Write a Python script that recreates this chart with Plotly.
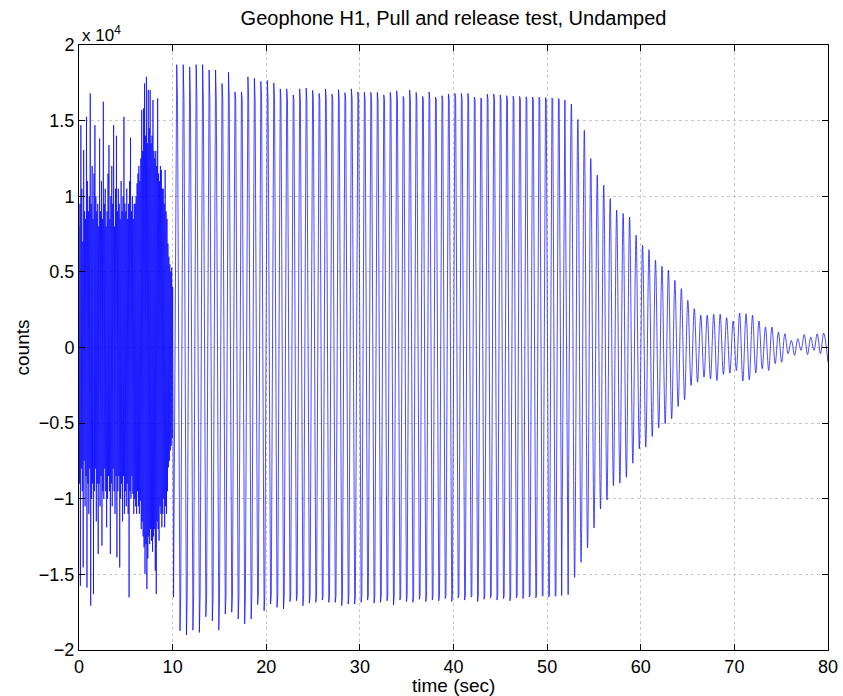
import numpy as np
import plotly.graph_objects as go

# ---------------- data ----------------
# 0-10 s : irregular shaking, sampled every 0.05 s
noise_dt = 0.05
noise_counts = [
    8000, -9000, 9500, -15750, 14700, -8000, 10500, -9500, 7000, -14540,
    13050, -7500, 9000, -10500, 8500, -8500, 15250, -15870, 11000, -9000,
    9000, -11000, 10000, -8000, 16800, -17070, 9500, -10000, 12000, -9000,
    8500, -16300, 11500, -9500, 14700, -8000, 10000, -11500, 9000, -9000,
    9500, -13650, 8000, -9000, 13820, -10500, 9000, -8500, 11000, -13100,
    8500, -9500, 16250, -10000, 9500, -8000, 10500, -9500, 8000, -11890,
    9000, -10000, 11500, -8500, 13380, -9500, 8500, -13650, 10000, -9000,
    12000, -10500, 9500, -8000, 14700, -9500, 8000, -11000, 10500, -8500,
    14000, -13870, 9000, -9500, 10500, -8500, 9500, -14540, 8500, -10000,
    11000, -9000, 9000, -11500, 10000, -8500, 15250, -11000, 9500, -9500,
    9000, -10500, 10500, -9000, 8500, -11000, 9500, -16520, 11000, -9500,
    13870, -10000, 9000, -8500, 10000, -9680, 8500, -11000, 9500, -10000,
    9500, -10500, 10000, -11000, 10850, -9500, 11500, -10500, 12000, -11000,
    11000, -10120, 12500, -12000, 15700, -11500, 13000, -12500, 15810, -13210,
    17460, -14970, 14000, -13000, 17900, -15970, 13500, -13950, 17020, -12500,
    14500, -13000, 17020, -12000, 13500, -12770, 14000, -13500, 16360, -12500,
    13000, -12000, 12500, -14750, 13000, -16300, 12000, -11500, 16470, -12000,
    11500, -12770, 11000, -10500, 12000, -11000, 11730, -11890, 10500, -11000,
    10500, -10000, 9500, -11890, 11730, -10500, 9000, -11000, 8500, -9500,
    6870, -7920, 6000, -7500, 5500, -6810, 5000, -6500, 5280, -6000,
    4000,
]

# 10-80 s : pendulum-like oscillation, one entry per cycle
first_trough = (10.10, -16500)
cycle_start = 10.44          # time of first positive peak (s)
cycle_period = 0.691         # s
clip_pos = 16400             # saturation level seen on the plateau
clip_neg = -16400

clipped_peaks = [
    18700, 18700, 18550, 18700, 18700, 18350, 18350, 17450, 18200, 16900,
    16900, 17900, 17800, 17600, 17650, 17500, 17100, 17100, 16700, 17100,
    17150, 17000, 16800, 17100, 16750, 17050, 16850, 17100, 16900, 16870,
    16870, 16870, 16700, 16870, 16975, 16600, 17020, 16870, 16600, 16900,
    16550, 16650, 16760, 16800, 16800, 16800, 16550, 16500, 16750, 16760,
    16700, 16650, 16620, 16600, 16580, 16560, 16550, 16520, 16500, 16450,
    16360,
]
clipped_troughs = [
    -18730, -19010, -18690, -18840, -17800, -18070, -18690, -17620, -17510, -17950,
    -18280, -17950, -17000, -17400, -16960, -17180, -17290, -16800, -16740, -17070,
    -16900, -16850, -16700, -16850, -16850, -17070, -16960, -16960, -16850, -16700,
    -16900, -16850, -16750, -17030, -16700, -16800, -16850, -16650, -16800, -16700,
    -16750, -16600, -16800, -16550, -16700, -16500, -16800, -16650, -16550, -16700,
    -16600, -16750, -16550, -16600, -16500, -16550, -16450, -16500, -16450, -16400,
    -16340,
]
decay_peaks = [
    16100, 15080, 14370, 12500, 11400, 10730, 9850, 9080, 8860, 8630,
    7420, 6760, 6470, 5770, 5370, 5100, 4440, 3890, 3120, 2570,
    2130, 2130, 2190, 2190, 1970, 1750, 2280, 2230, 2130, 1750,
    1350, 1350, 1020, 910, 470, 580, 860, 690, 910, 950,
]
decay_troughs = [
    -15200, -14200, -13250, -11930, -10670, -10080, -9130, -8970, -8580, -7650,
    -6700, -6590, -5880, -5310, -5040, -4710, -3900, -3450, -2510, -2290,
    -1960, -2070, -2180, -1780, -1690, -1520, -2220, -2130, -1690, -1400,
    -1520, -1070, -970, -410, -520, -190, -460, -190, -410,
]
last_sample = (80.0, -970)

x_ticks = [0, 10, 20, 30, 40, 50, 60, 70, 80]
y_ticks = [-20000, -15000, -10000, -5000, 0, 5000, 10000, 15000, 20000]
y_ticktext = ["\u22122", "\u22121.5", "\u22121", "\u22120.5", "0", "0.5", "1", "1.5", "2"]

# ---------------- build the traces ----------------
t_noise = np.arange(len(noise_counts)) * noise_dt
half = cycle_period / 2
dwell = 0.08

tc, yc = [first_trough[0]], [first_trough[1]]
for k, (pk, tr) in enumerate(zip(clipped_peaks, clipped_troughs)):
    tp = cycle_start + k * cycle_period
    if pk > clip_pos:
        tc += [tp - dwell, tp, tp + dwell]
        yc += [clip_pos, pk, clip_pos]
    else:
        tc.append(tp); yc.append(pk)
    tt = tp + half
    if tr < clip_neg:
        tc += [tt - dwell, tt, tt + dwell]
        yc += [clip_neg, tr, clip_neg]
    else:
        tc.append(tt); yc.append(tr)

k0 = len(clipped_peaks)
td = [cycle_start + (k0 - 1) * cycle_period + half]
yd = [clipped_troughs[-1]]
for i, pk in enumerate(decay_peaks):
    tp = cycle_start + (k0 + i) * cycle_period
    td.append(tp); yd.append(pk)
    if i < len(decay_troughs):
        td.append(tp + half); yd.append(decay_troughs[i])
td.append(last_sample[0]); yd.append(last_sample[1])

blue = "rgb(0,0,255)"
lw = 0.7
fig = go.Figure()
fig.add_trace(go.Scatter(x=list(t_noise) + [tc[0]], y=noise_counts + [yc[0]], mode="lines",
                         line=dict(color=blue, width=lw), showlegend=False))
fig.add_trace(go.Scatter(x=tc, y=yc, mode="lines",
                         line=dict(color=blue, width=lw), showlegend=False))
fig.add_trace(go.Scatter(x=td, y=yd, mode="lines",
                         line=dict(color=blue, width=lw, shape="spline", smoothing=1.0),
                         showlegend=False))

font = "Liberation Sans, Arial, Helvetica, sans-serif"
axis_common = dict(
    showline=True, linecolor="black", linewidth=1, mirror="ticks",
    ticks="inside", ticklen=6, tickcolor="black",
    showgrid=True, gridcolor="rgb(200,200,200)", griddash="dot", gridwidth=1,
    zeroline=False, automargin=False,
    tickfont=dict(family=font, size=18, color="black"),
)
fig.update_xaxes(range=[0, 80], tickvals=x_ticks, ticktext=[str(v) for v in x_ticks],
                 ticklabeloverflow="allow", **axis_common)
fig.update_yaxes(range=[-20000, 20000], tickvals=y_ticks, ticktext=y_ticktext,
                 **axis_common)

W, H = 843, 696
fig.update_layout(
    width=W, height=H,
    margin=dict(l=79, r=15, t=45, b=46, autoexpand=False),
    paper_bgcolor="white", plot_bgcolor="white",
    hovermode=False,
    title=dict(text="Geophone H1, Pull and release test, Undamped",
               font=dict(family=font, size=20, color="black"),
               x=0.5, xref="paper", xanchor="center", y=1 - 18 / H, yref="container", yanchor="middle"),
    annotations=[
        dict(text="x 10<sup>4</sup>", xref="paper", yref="paper", x=0, y=1,
             xanchor="left", yanchor="bottom", showarrow=False, xshift=1, yshift=-2,
             font=dict(family=font, size=17, color="black")),
        dict(text="time (sec)", xref="paper", yref="paper", x=0.5, y=0,
             xanchor="center", yanchor="middle", showarrow=False, yshift=-35,
             font=dict(family=font, size=19, color="black")),
        dict(text="counts", xref="paper", yref="paper", x=0, y=0.5, textangle=-90,
             xanchor="center", yanchor="middle", showarrow=False, xshift=-57,
             font=dict(family=font, size=19, color="black")),
    ],
)

# remove the default 8 px page margin so the 843x696 figure fills the window exactly
fig.write_html("out.html", config={"displayModeBar": False},
               post_script="document.body.style.margin='0';document.body.style.overflow='hidden';")
